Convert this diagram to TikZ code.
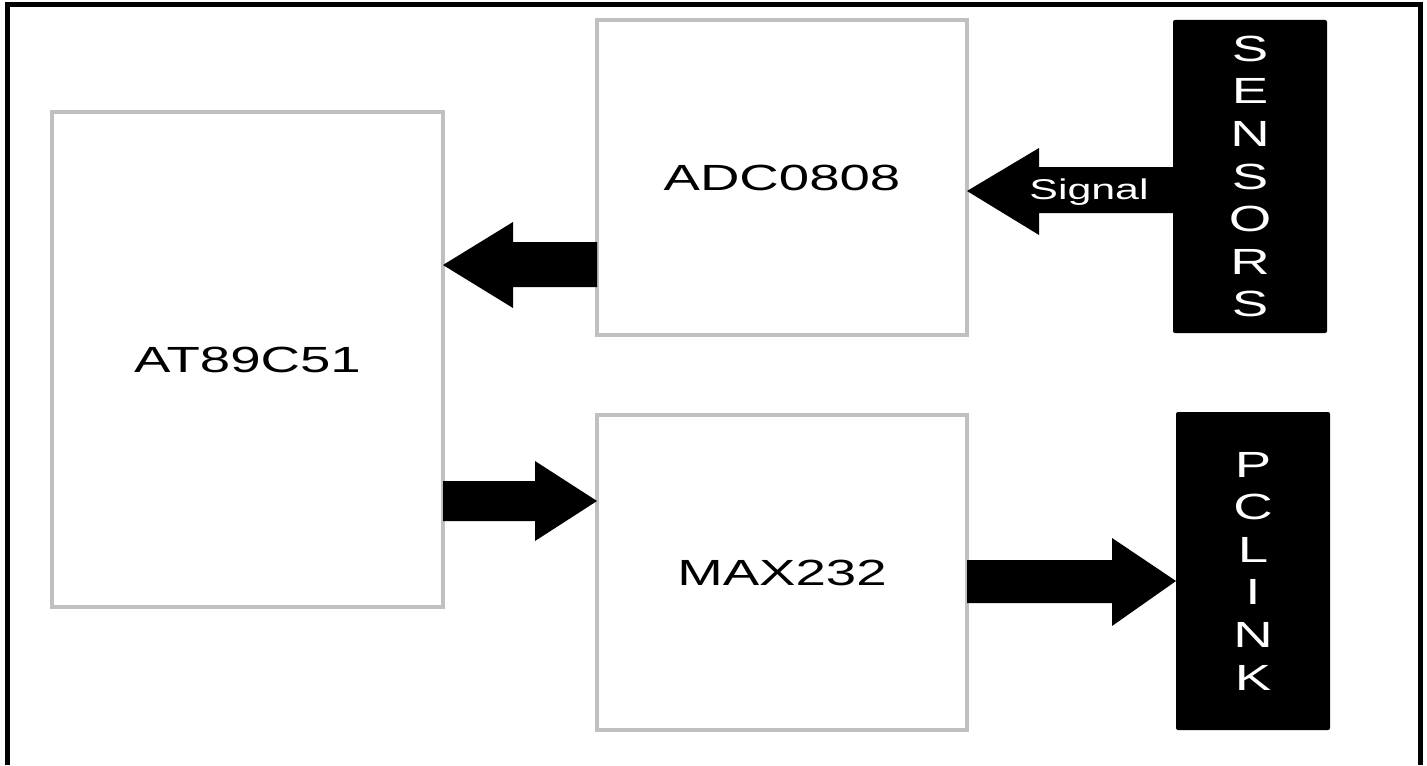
\documentclass[tikz,border=0pt]{standalone}
\usepackage{fontspec}
\newfontfamily\blockfont[FakeStretch=1.5]{Liberation Sans}
\usetikzlibrary{calc}
\definecolor{boxgray}{RGB}{192,192,192}

\tikzset{
  chip/.style={draw=boxgray, line width=2pt, fill=white, outer sep=0pt,
    font=\blockfont\fontsize{18.2}{21.3}\selectfont},
  port/.style={fill=black, rounded corners=1pt, text=white, outer sep=0pt,
    align=center, font=\blockfont\fontsize{18.2}{21.3}\selectfont}
}

\begin{document}
\begin{tikzpicture}[x=0.5pt, y=-0.5pt]
    \useasboundingbox (0,0) rectangle (1427,765);
    \draw [line width=2.5pt] (7.5,765) -- (7.5,5) -- (1420,5) -- (1420,765);

    \node [chip, minimum width=195.5pt, minimum height=247.5pt] (at89) at (247.5,359.5) {AT89C51};
    \node [chip, minimum width=185pt, minimum height=157.5pt] (adc) at (782,177.5) {ADC0808};
    \node [chip, minimum width=185pt, minimum height=157.5pt] (max) at (782,572.5) {MAX232};
    \node [port, minimum width=77pt, minimum height=156.5pt] (sensors) at (1250,176.5) {S\\E\\N\\S\\O\\R\\S};
    \node [port, minimum width=77pt, minimum height=159pt] (pclink) at (1253,571) {P\\C\\L\\I\\N\\K};

    % block arrows
    \fill (at89.east |- 0,265) -- ++(70,-43) -- ++(0,20) -- (adc.west |- 0,242)
        -- (adc.west |- 0,287) -- ($(at89.east |- 0,287)+(70,0)$) -- ++(0,21) -- cycle;
    \fill (adc.east |- 0,191) -- ++(72,-43) -- ++(0,19) -- (sensors.west |- 0,167)
        -- (sensors.west |- 0,213) -- ($(adc.east |- 0,213)+(72,0)$) -- ++(0,22) -- cycle;
    \fill (max.west |- 0,501) -- ++(-62,-40) -- ++(0,20) -- (at89.east |- 0,481)
        -- (at89.east |- 0,521) -- ($(max.west |- 0,521)+(-62,0)$) -- ++(0,20) -- cycle;
    \fill (pclink.west |- 0,581) -- ++(-64,-43) -- ++(0,22) -- (max.east |- 0,560)
        -- (max.east |- 0,603) -- ($(pclink.west |- 0,603)+(-64,0)$) -- ++(0,23) -- cycle;

    \node [text=white, font=\blockfont\fontsize{14.3}{17}\selectfont] (signal) at (1089,192) {Signal};
\end{tikzpicture}
\end{document}
